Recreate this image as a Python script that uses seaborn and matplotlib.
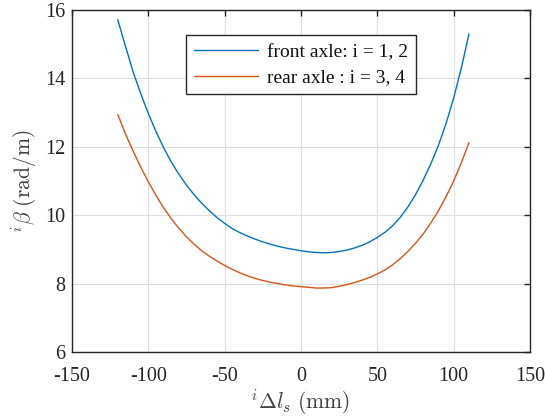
import numpy as np
import pandas as pd
import matplotlib
matplotlib.use("Agg")
import matplotlib.pyplot as plt
import seaborn as sns

# Data
x_mm = [-120, -115, -110, -105, -100, -95, -90, -85, -80, -75, -70, -65, -60, -55, -50,
        -45, -40, -35, -30, -25, -20, -15, -10, -5, 0, 5, 10, 15, 20, 25, 30, 35,
        40, 45, 50, 55, 60, 65, 70, 75, 80, 85, 90, 95, 100, 105, 110]
front = [15.72, 14.95, 14.20, 13.56, 12.98, 12.45, 11.98, 11.56, 11.20, 10.88, 10.60, 10.35, 10.13, 9.93, 9.76,
         9.61, 9.49, 9.39, 9.30, 9.22, 9.15, 9.09, 9.04, 9.00, 8.96, 8.93, 8.91, 8.90, 8.91, 8.94, 8.98, 9.04,
         9.12, 9.22, 9.35, 9.50, 9.69, 9.94, 10.24, 10.60, 11.02, 11.50, 12.04, 12.68, 13.43, 14.30, 15.30]
rear = [12.95, 12.38, 11.88, 11.41, 10.98, 10.58, 10.22, 9.90, 9.62, 9.37, 9.15, 8.96, 8.80, 8.66, 8.53,
        8.415, 8.315, 8.225, 8.15, 8.09, 8.04, 8.00, 7.96, 7.93, 7.91, 7.89, 7.87, 7.87, 7.88, 7.92, 7.97, 8.03,
        8.10, 8.18, 8.28, 8.40, 8.55, 8.73, 8.94, 9.18, 9.45, 9.77, 10.13, 10.54, 11.00, 11.53, 12.12]
labels = ["front axle: i = 1, 2", "rear axle : i = 3, 4"]
colors = ["#0072BD", "#D95319"]
xticks = [-150, -100, -50, 0, 50, 100, 150]
yticks = [6, 8, 10, 12, 14, 16]

df = pd.concat([
    pd.DataFrame({"x": x_mm, "y": front, "series": labels[0]}),
    pd.DataFrame({"x": x_mm, "y": rear, "series": labels[1]}),
], ignore_index=True)

sns.set_style("whitegrid")
plt.rcParams["font.family"] = ["Liberation Serif", "DejaVu Serif"]
plt.rcParams["mathtext.fontset"] = "cm"
plt.rcParams["lines.solid_joinstyle"] = "round"

fig = plt.figure(figsize=(5.45, 4.2), dpi=100)
ax = fig.add_axes([0.132, 0.162, 0.8405, 0.814])

sns.lineplot(data=df, x="x", y="y", hue="series", palette=colors,
             linewidth=1.0, ax=ax, sort=False, estimator=None)

ax.set_xlim(-150, 150)
ax.set_ylim(6, 16)
ax.set_xticks(xticks)
ax.set_yticks(yticks)
ax.set_xticklabels([str(t) for t in xticks])
ax.set_yticklabels([str(t) for t in yticks])
ax.tick_params(direction="in", length=4, width=1.0, top=True, right=True,
               labelsize=14.5, colors="#262626", labelcolor="#262626", pad=5)
ax.tick_params(axis="x", pad=11)
for s in ax.spines.values():
    s.set_visible(True)
    s.set_color("#262626")
    s.set_linewidth(1.0)
ax.grid(True, color="#e0e0e0", linewidth=0.8)
ax.set_facecolor("white")

ax.set_xlabel(r"$^{i}\Delta l_s\ \mathrm{(mm)}$", fontsize=15.5, color="#404040", labelpad=1)
ax.set_ylabel(r"$^{i}\beta\ \mathrm{(rad/m)}$", fontsize=15.5, color="#404040", labelpad=4)

leg = ax.legend(loc="upper center", bbox_to_anchor=(0.5, 0.926), borderaxespad=0,
                frameon=True, fancybox=False, edgecolor="#262626", fontsize=14,
                handlelength=3.3, borderpad=0.4, labelspacing=0.42, handletextpad=0.45)
leg.get_frame().set_linewidth(1.0)
leg.get_frame().set_alpha(1)
for t in leg.get_texts():
    t.set_color("#111111")

fig.savefig("out.png", dpi=100, facecolor="white")
